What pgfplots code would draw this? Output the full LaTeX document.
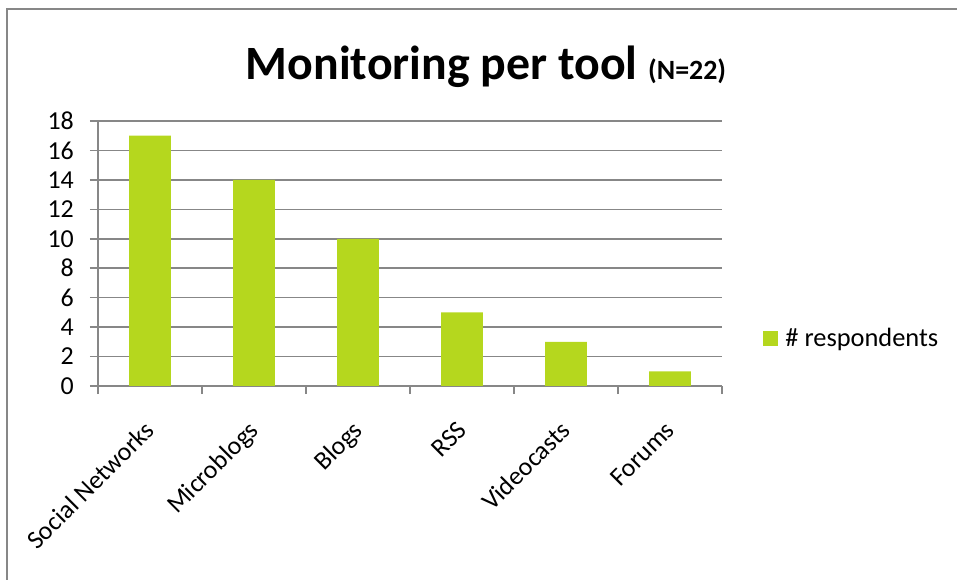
\documentclass[border=0pt]{standalone}
\usepackage{pgfplots}
\pgfplotsset{compat=1.18}
\usepackage{fontspec}
\setmainfont{Carlito}
\definecolor{barcol}{HTML}{B5D71E}
\definecolor{gridgray}{HTML}{878787}
\begin{document}
\begin{tikzpicture}
\begin{axis}[
  name=main,
  width=624bp, height=265bp, scale only axis,
  xmin=-0.5, xmax=5.5, ymin=0, ymax=18,
  ytick={0,2,...,18},
  xtick={-0.5,0.5,...,5.5},
  xticklabels={},
  extra x ticks={0,1,2,3,4,5},
  extra x tick labels={Social Networks, Microblogs, Blogs, RSS, Videocasts, Forums},
  extra x tick style={major tick length=0pt,
    xticklabel style={xshift=6bp, yshift=-46bp, rotate=45, anchor=base east, inner sep=0pt}},
  major tick length=8bp,
  tick align=outside,
  tick style={gridgray, line width=1.5bp},
  axis lines*=left,
  axis line style={gridgray, line width=1.5bp},
  ymajorgrids,
  grid style={gridgray, line width=1.5bp},
  /pgf/number format/assume math mode=true,
  every tick label/.append style={font=\fontsize{26}{26}\selectfont, text=black},
  yticklabel style={anchor=east, inner sep=0pt, xshift=-16bp},
  legend style={draw=none, fill=none, at={(1.066,0.181)}, anchor=west, inner sep=0pt,
    font=\fontsize{26.5}{26.5}\selectfont, column sep=7bp, nodes={inner sep=0pt}},
  legend image code/.code={\fill[barcol] (0bp,-7.5bp) rectangle (15bp,7.5bp);},
]
\addplot[ybar, bar width=0.4, draw=none, fill=barcol] coordinates {(0,17) (1,14) (2,10) (3,5) (4,3) (5,1)};
\addlegendentry{\# respondents}
\end{axis}
\begin{scope}[shift={(main.south west)}, x=1bp, y=1bp]
\draw[gridgray, line width=2bp] (-91,-194) -- (-91,377) -- (859,377);
\node[anchor=base, font=\fontsize{48}{48}\selectfont\bfseries] at (388,306) {Monitoring per tool {\fontsize{28}{28}\selectfont (N=22)}};
\pgfresetboundingbox
\path[use as bounding box] (-98,-194) rectangle (859,386);
\end{scope}
\end{tikzpicture}
\end{document}
